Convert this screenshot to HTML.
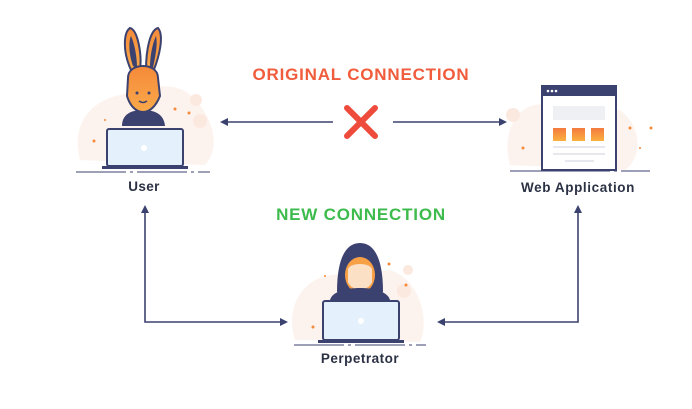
<!DOCTYPE html>
<html><head><style>
html,body{margin:0;padding:0;background:#fff;}
svg{display:block;}
text{font-family:"Liberation Sans",sans-serif;font-weight:bold;}
</style></head><body>
<svg width="692" height="409" viewBox="0 0 692 409" xmlns="http://www.w3.org/2000/svg">
<defs>
<linearGradient id="org" x1="0" y1="0" x2="0" y2="1"><stop offset="0" stop-color="#f37a3f"/><stop offset="1" stop-color="#fbb040"/></linearGradient>
<linearGradient id="bun" x1="0" y1="0" x2="0" y2="1"><stop offset="0" stop-color="#f58a3a"/><stop offset="1" stop-color="#f9a94a"/></linearGradient>
</defs>
<path d="M80 160 C70 120 95 100 120 95 C150 85 180 80 195 100 C215 120 220 150 205 165 Z" fill="#fdf3ee"/>
<path d="M510 165 C500 130 520 100 545 105 L620 110 C645 130 640 160 625 170 Z" fill="#fdf3ee"/>
<path d="M295 340 C285 310 300 280 330 275 L390 270 C420 280 430 320 420 342 Z" fill="#fdf3ee"/>
<circle cx="196" cy="100" r="6" fill="#fbe9e0"/><circle cx="200" cy="121" r="7" fill="#fbe9e0"/>
<circle cx="513" cy="115" r="7" fill="#fbe9e0"/><circle cx="404" cy="291" r="7" fill="#fbe9e0"/><circle cx="408" cy="270" r="5" fill="#fbe9e0"/>

<path d="M131 70 C122 50 124 32 130 28 C138 30 142 55 140 70 Z" fill="url(#bun)" stroke="#3c4270" stroke-width="2"/>
<path d="M146 70 C146 50 150 30 158 28 C164 35 160 55 153 72 Z" fill="url(#bun)" stroke="#3c4270" stroke-width="2"/>
<path d="M133 66 C128 52 129 40 131 36 C135 45 137 58 137 68Z" fill="#3c4270"/>
<path d="M150 68 C150 55 153 42 156 36 C158 45 155 58 153 68Z" fill="#3c4270"/>
<path d="M122 126 C122 115 130 110 143 110 C156 110 164 115 165 126 Z" fill="#3c4270"/>
<path d="M128 78 C128 70 135 66 143 66 C151 66 158 70 158 78 L160 96 C156 106 150 112 143 112 C136 112 130 106 127 96 Z" fill="url(#bun)" stroke="#3c4270" stroke-width="2"/>
<circle cx="137" cy="93" r="1.5" fill="#3c4270"/><circle cx="149" cy="93" r="1.5" fill="#3c4270"/>
<path d="M139 101 Q143 104 147 101" stroke="#3c4270" stroke-width="1.5" fill="none"/>
<rect x="107" y="129" width="76" height="37" rx="2" fill="#e4f1fd" stroke="#3c4270" stroke-width="2"/>
<circle cx="144" cy="148" r="3" fill="#fff"/>
<rect x="102" y="166" width="86" height="3" fill="#3c4270"/>
<line x1="76" y1="172" x2="210" y2="172" stroke="#3c4270" stroke-width="1" stroke-dasharray="50 4 3 4"/>
<text x="144" y="191" font-size="13.5" fill="#2b3244" text-anchor="middle" letter-spacing="0.4">User</text>

<rect x="542" y="86" width="74" height="84" fill="#fff" stroke="#3c4270" stroke-width="2"/>
<rect x="542" y="86" width="74" height="10" fill="#3c4270"/>
<circle cx="548" cy="91" r="1.3" fill="#fff"/><circle cx="552" cy="91" r="1.3" fill="#fff"/><circle cx="556" cy="91" r="1.3" fill="#fff"/>
<rect x="553" y="106" width="52" height="14" fill="#eef0f4"/>
<rect x="553" y="128" width="13" height="13" fill="url(#org)"/><rect x="572" y="128" width="13" height="13" fill="url(#org)"/><rect x="591" y="128" width="13" height="13" fill="url(#org)"/>
<line x1="553" y1="147" x2="605" y2="147" stroke="#e6e8ee" stroke-width="2"/>
<line x1="553" y1="154" x2="605" y2="154" stroke="#e6e8ee" stroke-width="2"/>
<line x1="565" y1="161" x2="594" y2="161" stroke="#e6e8ee" stroke-width="2"/>
<line x1="510" y1="171" x2="650" y2="171" stroke="#3c4270" stroke-width="1" stroke-dasharray="100 4 3 4"/>
<text x="578" y="192" font-size="13.5" fill="#2b3244" text-anchor="middle" letter-spacing="0.6">Web Application</text>

<path d="M337 292 C337 260 345 243 360 243 C375 243 383 260 383 292 Z" fill="#3c4270"/>
<ellipse cx="360" cy="275" rx="15" ry="18" fill="#f7a046"/>
<path d="M348 270 C348 262 372 262 372 270 L372 282 C368 292 352 292 348 282 Z" fill="#fbe0c5"/>
<path d="M330 300 C332 292 345 288 360 288 C375 288 388 292 390 300 Z" fill="#3c4270"/>
<rect x="323" y="301" width="76" height="39" rx="2" fill="#e4f1fd" stroke="#3c4270" stroke-width="2"/>
<circle cx="361" cy="321" r="3" fill="#fff"/>
<rect x="318" y="340" width="86" height="3" fill="#3c4270"/>
<line x1="294" y1="345" x2="426" y2="345" stroke="#3c4270" stroke-width="1" stroke-dasharray="50 4 3 4"/>
<text x="360" y="363" font-size="13.5" fill="#2b3244" text-anchor="middle" letter-spacing="0.5">Perpetrator</text>

<g fill="#f58a3a">
<circle cx="175" cy="109" r="1.5"/><circle cx="189" cy="113" r="1.5"/><circle cx="94" cy="141" r="1.5"/><circle cx="105" cy="120" r="1"/>
<circle cx="630" cy="128" r="1.5"/><circle cx="651" cy="128" r="1.5"/><circle cx="523" cy="148" r="1.5"/><circle cx="640" cy="148" r="1"/>
<circle cx="389" cy="264" r="1.5"/><circle cx="406" cy="285" r="1.5"/><circle cx="313" cy="327" r="1.5"/><circle cx="325" cy="276" r="1"/>
</g>

<text x="361" y="80" font-size="17" fill="#f05c3c" text-anchor="middle" letter-spacing="0.8">ORIGINAL CONNECTION</text>
<text x="361" y="220" font-size="17" fill="#3dbb4c" text-anchor="middle" letter-spacing="0.8">NEW CONNECTION</text>

<g stroke="#ef4b3c" stroke-width="6" stroke-linecap="round">
<line x1="347" y1="108" x2="375" y2="136"/><line x1="375" y1="108" x2="347" y2="136"/>
</g>

<g stroke="#3c4270" stroke-width="1.6" fill="none">
<line x1="224" y1="122" x2="333" y2="122"/>
<line x1="393" y1="122" x2="503" y2="122"/>
<polyline points="145,210 145,322 283,322"/>
<polyline points="578,210 578,322 442,322"/>
</g>
<g fill="#3c4270">
<polygon points="220,122 228,118 228,126"/>
<polygon points="507,122 499,118 499,126"/>
<polygon points="145,205 141,213 149,213"/>
<polygon points="578,205 574,213 582,213"/>
<polygon points="288,322 280,318 280,326"/>
<polygon points="437,322 445,318 445,326"/>
</g>
</svg>
</body></html>
